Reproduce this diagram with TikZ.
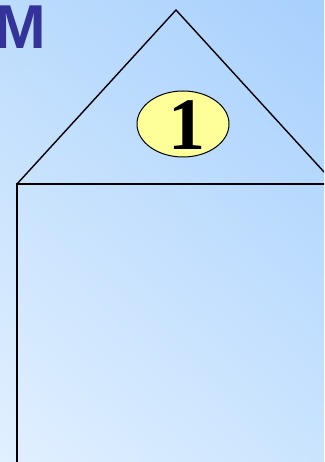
\documentclass[tikz,border=0pt]{standalone}
\usepackage{fontspec}
\newfontfamily\titlefont{Liberation Sans}
\newfontfamily\numfont{Liberation Serif}
\usetikzlibrary{shapes.geometric,shadings}
\definecolor{bgtl}{RGB}{188,220,252}
\definecolor{bgtr}{RGB}{168,208,253}
\definecolor{bgbl}{RGB}{226,240,255}
\definecolor{bgbr}{RGB}{202,228,254}
\definecolor{titleblue}{RGB}{51,51,153}
\definecolor{badge}{RGB}{255,255,153}
\tikzset{
  outline/.style={draw=black, line width=1.4pt},
  badgestyle/.style={ellipse, draw=black, line width=1pt, fill=badge,
    minimum width=92pt, minimum height=66pt, inner sep=0pt},
}
\begin{document}
\begin{tikzpicture}[x=1pt,y=1pt]
\useasboundingbox (0,0) rectangle (324,462);
\clip (0,0) rectangle (324,462);
\shade[upper left=bgtl, upper right=bgtr, lower left=bgbl, lower right=bgbr] (0,0) rectangle (324,462);
% title fragment
\node[anchor=base west, inner sep=0pt, text=titleblue, font=\titlefont\bfseries\fontsize{62}{62}\selectfont] (title) at (-6,413) {M};
% house outline
\coordinate (apex) at (176,452);
\coordinate (bl) at (17,278);
\coordinate (br) at (335,278);
\coordinate (bottom) at (17,-5);
\draw[outline] (bl) -- (apex) -- (br);
\draw[outline] (br) -- (bl) -- (bottom);
% badge
\node[badgestyle] (badge1) at (183,338) {};
\node[inner sep=0pt, anchor=base, font=\numfont\bfseries\fontsize{74}{74}\selectfont] (num) at (186.5,312) {1};
\end{tikzpicture}
\end{document}
